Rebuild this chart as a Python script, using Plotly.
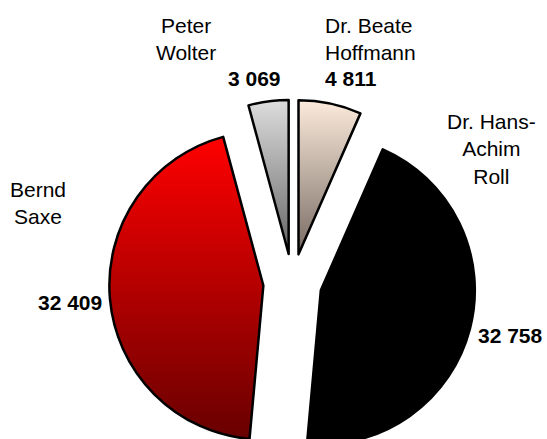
import json
import plotly.graph_objects as go

# ---- data ----
names = ["Dr. Beate<br>Hoffmann", "Dr. Hans-<br>Achim<br>Roll", "Bernd<br>Saxe", "Peter<br>Wolter"]
votes = [4811, 32758, 32409, 3069]
fallback_colors = ["#cdbdb0", "#000000", "#c00000", "#a8a8a8"]
gradient_top = ["#fcebdc", "#000000", "#ff0000", "#dddddd"]
gradient_bottom = ["#776a62", "#000000", "#680000", "#656565"]

W, H, VIEW_H = 547, 470, 439


def px(x):
    return x / W


def py(y):
    return 1 - y / H


fig = go.Figure(go.Pie(
    labels=[n.replace("<br>", " ") for n in names],
    values=votes,
    sort=False,
    direction="clockwise",
    rotation=0,
    pull=[0.19] * len(votes),
    marker=dict(colors=fallback_colors, line=dict(color="black", width=2.5)),
    textinfo="none",
    hoverinfo="label+value",
    domain=dict(x=[px(109.25), px(475.75)], y=[py(466.25), py(99.75)]),
))

font = dict(family="Liberation Sans, Arial, sans-serif", size=21, color="black")
name_pos = [(323, 38.5, "left"), (492, 148.5, "center"), (37.5, 203, "center"), (185.5, 38.5, "center")]
value_pos = [(323, 79, "left"), (510, 335, "center"), (70, 302, "center"), (254, 78, "center")]

annotations = []
for name, v, (nx, ny, na), (vx, vy, va) in zip(names, votes, name_pos, value_pos):
    annotations.append(dict(x=px(nx), y=py(ny), xref="paper", yref="paper", text=name,
                            showarrow=False, xanchor=na, yanchor="middle", align=na, font=font))
    annotations.append(dict(x=px(vx), y=py(vy), xref="paper", yref="paper",
                            text="<b>" + f"{v:,}".replace(",", " ") + "</b>",
                            showarrow=False, xanchor=va, yanchor="middle", align=va, font=font))

fig.update_layout(
    width=W, height=H,
    margin=dict(l=0, r=0, t=0, b=0),
    paper_bgcolor="white",
    plot_bgcolor="white",
    showlegend=False,
    annotations=annotations,
)

specs = json.dumps([{"top": t, "bottom": b} for t, b in zip(gradient_top, gradient_bottom)])
post = """
var gd = document.getElementById('{plot_id}');
document.documentElement.style.margin = '0';
document.body.style.margin = '0';
document.documentElement.style.overflow = 'hidden';
document.body.style.overflow = 'hidden';
if (gd.parentElement) { gd.parentElement.style.height = 'VIEWHpx'; gd.parentElement.style.overflow = 'hidden'; }
var specs = SPECS;
var ns = 'http://www.w3.org/2000/svg';
var svg = gd.querySelector('svg.main-svg');
var defs = svg.querySelector('defs');
if (!defs) { defs = document.createElementNS(ns, 'defs'); svg.insertBefore(defs, svg.firstChild); }
var paths = gd.querySelectorAll('g.slice path.surface');
for (var i = 0; i < paths.length && i < specs.length; i++) {
  var g = document.createElementNS(ns, 'linearGradient');
  var gid = 'slicegrad' + i;
  g.setAttribute('id', gid);
  g.setAttribute('x1', '0'); g.setAttribute('y1', '0');
  g.setAttribute('x2', '0'); g.setAttribute('y2', '1');
  var s1 = document.createElementNS(ns, 'stop');
  s1.setAttribute('offset', '0'); s1.setAttribute('stop-color', specs[i].top);
  var s2 = document.createElementNS(ns, 'stop');
  s2.setAttribute('offset', '1'); s2.setAttribute('stop-color', specs[i].bottom);
  g.appendChild(s1); g.appendChild(s2);
  defs.appendChild(g);
  paths[i].style.fill = 'url(#' + gid + ')';
}
""".replace("SPECS", specs).replace("VIEWH", str(VIEW_H))

fig.write_html("out.html", post_script=post, config={"displayModeBar": False})
